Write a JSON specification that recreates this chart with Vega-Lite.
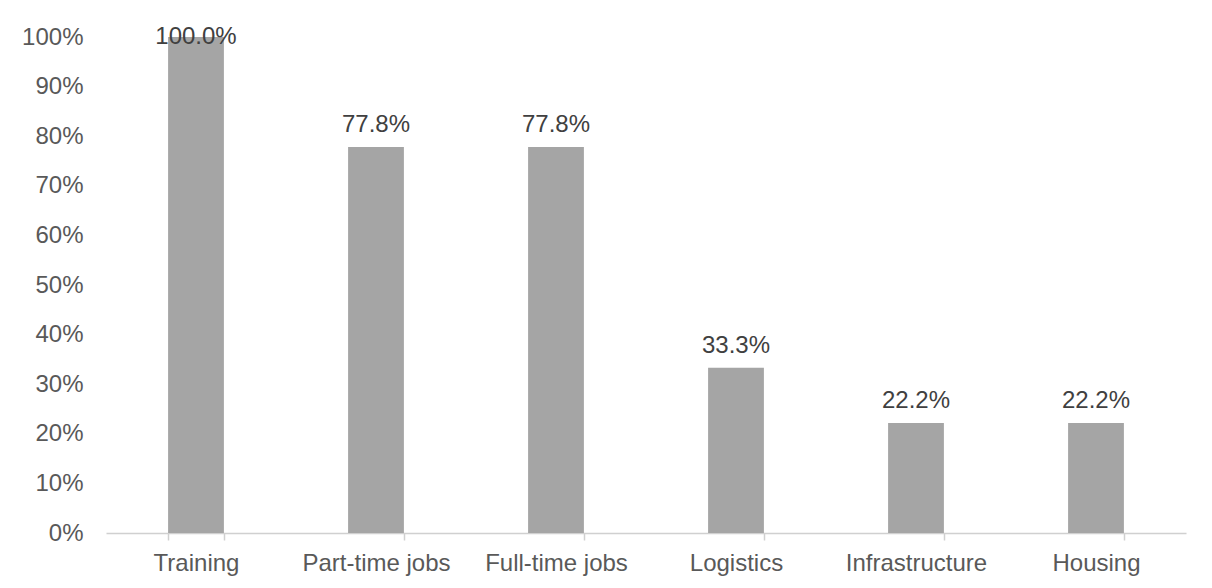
{
  "$schema": "https://vega.github.io/schema/vega-lite/v6.json",
  "width": 1080,
  "height": 496,
  "autosize": {"type": "none"},
  "padding": {"left": 106, "top": 37, "right": 26, "bottom": 55},
  "background": "white",
  "config": {"view": {"stroke": null}, "font": "Liberation Sans"},
  "data": {
    "values": [
      {"category": "Training", "value": 1.0},
      {"category": "Part-time jobs", "value": 0.778},
      {"category": "Full-time jobs", "value": 0.778},
      {"category": "Logistics", "value": 0.333},
      {"category": "Infrastructure", "value": 0.222},
      {"category": "Housing", "value": 0.222}
    ]
  },
  "encoding": {
    "x": {
      "field": "category",
      "type": "nominal",
      "sort": null,
      "scale": {"paddingInner": 0.69, "paddingOuter": 0.345},
      "axis": {
        "title": null,
        "labelAngle": 0,
        "labelFontSize": 24,
        "labelColor": "#595959",
        "labelFont": "Liberation Sans",
        "labelPadding": 11,
        "labelOverlap": false,
        "domainColor": "#d0d0d0",
        "domainWidth": 1.5,
        "tickColor": "#d0d0d0",
        "tickWidth": 1.5,
        "tickSize": 7,
        "tickBand": "extent"
      }
    }
  },
  "layer": [
    {
      "mark": {"type": "bar", "color": "#a5a5a5"},
      "encoding": {
        "y": {
          "field": "value",
          "type": "quantitative",
          "scale": {"domain": [0, 1]},
          "axis": {
            "title": null,
            "format": ".0%",
            "values": [0, 0.1, 0.2, 0.3, 0.4, 0.5, 0.6, 0.7, 0.8, 0.9, 1.0],
            "labelOverlap": false,
            "grid": false,
            "domain": false,
            "ticks": false,
            "labelFontSize": 24,
            "labelColor": "#595959",
            "labelFont": "Liberation Sans",
            "labelPadding": 23
          }
        }
      }
    },
    {
      "transform": [{"calculate": "min(datum.value, 0.956)", "as": "labelY"}],
      "mark": {"type": "text", "baseline": "alphabetic", "dy": -15, "fontSize": 24, "color": "#404040", "font": "Liberation Sans"},
      "encoding": {
        "y": {"field": "labelY", "type": "quantitative", "scale": {"domain": [0, 1]}},
        "text": {"field": "value", "type": "quantitative", "format": ".1%"}
      }
    }
  ]
}
